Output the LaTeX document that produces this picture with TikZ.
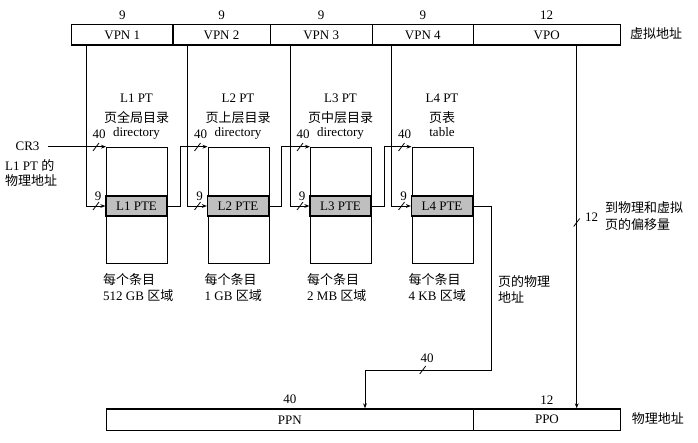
\documentclass[tikz,border=0pt]{standalone}
\usepackage{fontspec}
\setmainfont{Liberation Serif}
\newfontfamily\cjkfont{Noto Sans CJK SC}
\newcommand\zhtext[1]{{\cjkfont\fontsize{13}{16}\selectfont #1}}
\usetikzlibrary{arrows.meta}
\tikzset{
  field/.style={draw, line width=1.2pt, minimum height=20.5pt, inner sep=0pt, anchor=north west},
  tbox/.style={draw, line width=1.2pt, minimum width=61pt, minimum height=116.3pt, inner sep=0pt, anchor=north west},
  pte/.style={draw, line width=1.2pt, fill=black!25, minimum width=61pt, minimum height=20pt, inner sep=0pt},
  bit/.style={inner sep=0pt, anchor=south, yshift=4pt},
  lbl/.style={inner sep=0pt},
  lbll/.style={inner sep=0pt, anchor=west},
  conn/.style={line width=0.8pt},
  arr/.style={conn, -{Stealth[length=5pt,width=3.8pt]}}
}
\begin{document}
\begin{tikzpicture}[x=1pt,y=-1pt,font=\fontsize{13}{15}\selectfont]
\useasboundingbox (0,0) rectangle (698,443);

% virtual address bar
\node[field,minimum width=101.3pt] (vpn1) at (71,24) {VPN 1};
\node[field,minimum width=97.2pt] (vpn2) at (172.3,24) {VPN 2};
\node[field,minimum width=102.2pt] (vpn3) at (269.5,24) {VPN 3};
\node[field,minimum width=101pt] (vpn4) at (371.7,24) {VPN 4};
\node[field,minimum width=146.8pt] (vpo) at (472.7,24) {VPO};
\foreach \n/\b in {vpn1/9,vpn2/9,vpn3/9,vpn4/9,vpo/12}
  \node[bit] (bit-\n) at (\n.north) {\b};
\node[lbll] (va) at (630,34) {\zhtext{虚拟地址}};

% page tables
\foreach \i/\x in {1/106,2/207.5,3/310,4/411.5} {
  \node[tbox] (tbl\i) at (\x,146.7) {};
  \node[pte] (pte\i) at (\x+30.5,206) {L\i\ PTE};
  \coordinate (in\i) at ([xshift=-20pt]tbl\i.west);
  \node[lbl] (n40-\i) at (\x-7,134.2) {40};
  \node[lbl] (n9-\i) at (\x-8,196) {9};
  \draw[conn] (\x-10,147) ++(-3,4) -- ++(6,-8);
  \draw[conn] (\x-10,206) ++(-3,4) -- ++(6,-8);
}
\foreach \i/\x/\c/\e in {1/136.5/页全局目录/directory,2/238/页上层目录/directory,3/340.5/页中层目录/directory,4/442/页表/table} {
  \node[lbl] (name\i) at (\x,98.3) {L\i\ PT};
  \node[lbl] (zh\i) at (\x,117.5) {\zhtext{\c}};
  \node[lbl,anchor=base] (en\i) at (\x,137) {\e};
}
\node[lbll] (e1a) at (103,280) {\zhtext{每个条目}};
\node[lbll] (e1b) at (103,295.5) {512 GB \zhtext{区域}};
\node[lbll] (e2a) at (204.5,280) {\zhtext{每个条目}};
\node[lbll] (e2b) at (204.5,295.5) {1 GB \zhtext{区域}};
\node[lbll] (e3a) at (307,280) {\zhtext{每个条目}};
\node[lbll] (e3b) at (307,295.5) {2 MB \zhtext{区域}};
\node[lbll] (e4a) at (408.5,280) {\zhtext{每个条目}};
\node[lbll] (e4b) at (408.5,295.5) {4 KB \zhtext{区域}};

% CR3
\node[lbl] (cr3) at (27.5,146.7) {CR3};
\node[lbll] (cr3a) at (5,165) {L1 PT \zhtext{的}};
\node[lbll] (cr3b) at (5,181) {\zhtext{物理地址}};
\draw[arr] ([xshift=8pt]cr3.east) -- (tbl1.north west);

% VPN index lines
\foreach \i in {1,2,3,4}
  \draw[arr] (vpn\i.south -| in\i) |- (pte\i.west);

% table to table
\draw[arr] (pte1.east) -- ++(12.5,0) |- (tbl2.north west);
\draw[arr] (pte2.east) -- ++(12.5,0) |- (tbl3.north west);
\draw[arr] (pte3.east) -- ++(12.5,0) |- (tbl4.north west);

% physical address bar
\node[field,minimum width=367pt,minimum height=21.7pt] (ppn) at (105.7,408.3) {PPN};
\node[field,minimum width=147.3pt,minimum height=21.7pt] (ppo) at (472.7,408.3) {PPO};
\node[bit] (bit-ppn) at (ppn.north) {40};
\node[bit] (bit-ppo) at (ppo.north) {12};
\node[lbll] (pa) at (631.7,419) {\zhtext{物理地址}};

% L4 PTE to PPN
\coordinate (bend) at (491.3,370);
\draw[arr] (pte4.east) -| (bend) -| ([xshift=259.3pt]ppn.north west);
\draw[conn] (422.7,370) ++(-3,4) -- ++(6,-8);
\node[lbl] (n40b) at (427,358) {40};
\node[lbll] (pp1) at (498,281.5) {\zhtext{页的物理}};
\node[lbll] (pp2) at (498,297) {\zhtext{地址}};

% VPO to PPO
\draw[arr] ([xshift=104pt]vpo.south west) -- ([xshift=104pt]ppo.north west);
\draw[conn] (576.7,222.5) ++(-3,4) -- ++(6,-8);
\node[lbl] (n12) at (591.5,216.7) {12};
\node[lbll] (off1) at (605,208) {\zhtext{到物理和虚拟}};
\node[lbll] (off2) at (605,225) {\zhtext{页的偏移量}};
\end{tikzpicture}
\end{document}
